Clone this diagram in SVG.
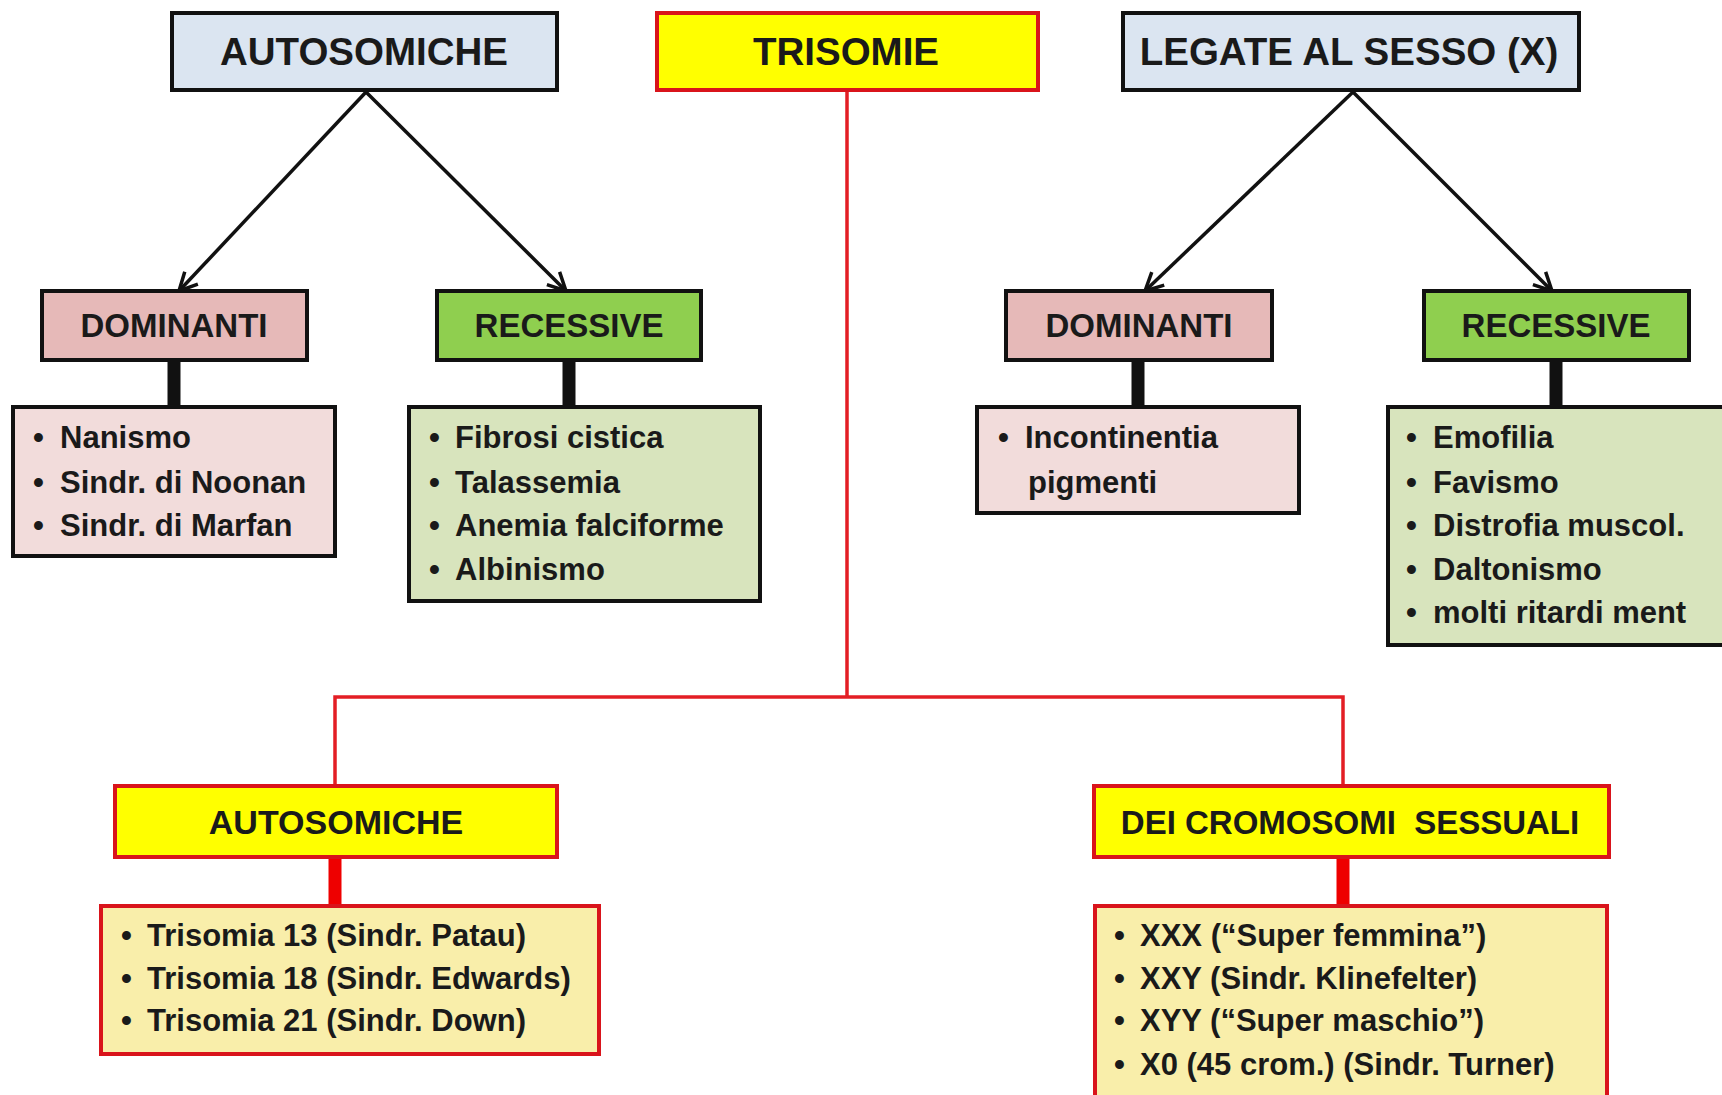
<svg xmlns="http://www.w3.org/2000/svg" width="1722" height="1095" viewBox="0 0 1722 1095">
<defs>
<style>
.t{font-family:"Liberation Sans",Arial,sans-serif;font-weight:bold;fill:#1a1a1a}
.h1{font-size:38.5px}
.h2{font-size:33px}
.h3{font-size:34px}
.li{font-size:31px}
.bk{stroke:#111;stroke-width:4}
.rd{stroke:#d9141b;stroke-width:4}
.blue{fill:#dbe5f1}
.pinkH{fill:#e6b9b8}
.greenH{fill:#8fcf4f}
.pinkL{fill:#f2dcdb}
.greenL{fill:#d8e4bd}
.yel{fill:#ffff00}
.cream{fill:#f9eeaa}
.arw{stroke:#111;stroke-width:3.5;marker-end:url(#arr)}
</style>
<marker id="arr" viewBox="0 0 24 24" refX="21" refY="12" markerWidth="24" markerHeight="24" markerUnits="userSpaceOnUse" orient="auto">
<path d="M3,3 L21,12 L3,21" fill="none" stroke="#111" stroke-width="3.5"/>
</marker>
</defs>
<rect width="1722" height="1095" fill="#ffffff"/>

<g id="connectors">
<line x1="366" y1="92" x2="179" y2="291" class="arw"/>
<line x1="366" y1="92" x2="566" y2="291" class="arw"/>
<line x1="1353" y1="92" x2="1145" y2="291" class="arw"/>
<line x1="1353" y1="92" x2="1552" y2="291" class="arw"/>
<g stroke="#111" stroke-width="13">
<line x1="174" y1="360" x2="174" y2="407"/>
<line x1="569" y1="360" x2="569" y2="407"/>
<line x1="1138" y1="360" x2="1138" y2="407"/>
<line x1="1556" y1="360" x2="1556" y2="407"/>
</g>
<path d="M847,90 V697 M335,786 V697 H1343 V786" fill="none" stroke="#e31e24" stroke-width="3.5"/>
<g stroke="#ee0000" stroke-width="13">
<line x1="335" y1="857" x2="335" y2="906"/>
<line x1="1343" y1="857" x2="1343" y2="906"/>
</g>
</g>

<g id="top-autosomiche">
<rect x="172" y="13" width="385" height="77" class="blue bk"/>
<text x="364" y="65" text-anchor="middle" class="t h1">AUTOSOMICHE</text>
</g>
<g id="trisomie">
<rect x="657" y="13" width="381" height="77" class="yel rd"/>
<text x="846" y="65" text-anchor="middle" class="t h1">TRISOMIE</text>
</g>
<g id="legate">
<rect x="1123" y="13" width="456" height="77" class="blue bk"/>
<text x="1349" y="65" text-anchor="middle" class="t h1">LEGATE AL SESSO (X)</text>
</g>

<g id="dom-left">
<rect x="42" y="291" width="265" height="69" class="pinkH bk"/>
<text x="174" y="337" text-anchor="middle" class="t h2">DOMINANTI</text>
</g>
<g id="rec-left">
<rect x="437" y="291" width="264" height="69" class="greenH bk"/>
<text x="569" y="337" text-anchor="middle" class="t h2">RECESSIVE</text>
</g>
<g id="dom-right">
<rect x="1006" y="291" width="266" height="69" class="pinkH bk"/>
<text x="1139" y="337" text-anchor="middle" class="t h2">DOMINANTI</text>
</g>
<g id="rec-right">
<rect x="1424" y="291" width="265" height="69" class="greenH bk"/>
<text x="1556" y="337" text-anchor="middle" class="t h2">RECESSIVE</text>
</g>

<g id="list-dom-left">
<rect x="13" y="407" width="322" height="149" class="pinkL bk" stroke-width="3"/>
<text class="t li"><tspan x="33" y="448">•</tspan><tspan x="60" y="448">Nanismo</tspan></text>
<text class="t li"><tspan x="33" y="493">•</tspan><tspan x="60" y="493">Sindr. di Noonan</tspan></text>
<text class="t li"><tspan x="33" y="536">•</tspan><tspan x="60" y="536">Sindr. di Marfan</tspan></text>
</g>
<g id="list-rec-left">
<rect x="409" y="407" width="351" height="194" class="greenL bk" stroke-width="3"/>
<text class="t li"><tspan x="429" y="448">•</tspan><tspan x="455" y="448">Fibrosi cistica</tspan></text>
<text class="t li"><tspan x="429" y="493">•</tspan><tspan x="455" y="493">Talassemia</tspan></text>
<text class="t li"><tspan x="429" y="536">•</tspan><tspan x="455" y="536">Anemia falciforme</tspan></text>
<text class="t li"><tspan x="429" y="580">•</tspan><tspan x="455" y="580">Albinismo</tspan></text>
</g>
<g id="list-dom-right">
<rect x="977" y="407" width="322" height="106" class="pinkL bk" stroke-width="3"/>
<text class="t li"><tspan x="998" y="448">•</tspan><tspan x="1025" y="448">Incontinentia</tspan></text>
<text class="t li" x="1028" y="493">pigmenti</text>
</g>
<g id="list-rec-right">
<rect x="1388" y="407" width="336" height="238" class="greenL bk" stroke-width="3"/>
<text class="t li"><tspan x="1406" y="448">•</tspan><tspan x="1433" y="448">Emofilia</tspan></text>
<text class="t li"><tspan x="1406" y="493">•</tspan><tspan x="1433" y="493">Favismo</tspan></text>
<text class="t li"><tspan x="1406" y="536">•</tspan><tspan x="1433" y="536">Distrofia muscol.</tspan></text>
<text class="t li"><tspan x="1406" y="580">•</tspan><tspan x="1433" y="580">Daltonismo</tspan></text>
<text class="t li"><tspan x="1406" y="623">•</tspan><tspan x="1433" y="623">molti ritardi ment</tspan></text>
</g>

<g id="bottom-autosomiche">
<rect x="115" y="786" width="442" height="71" class="yel rd"/>
<text x="336" y="834" text-anchor="middle" class="t h3">AUTOSOMICHE</text>
</g>
<g id="bottom-sessuali">
<rect x="1094" y="786" width="515" height="71" class="yel rd"/>
<text x="1350" y="834" text-anchor="middle" class="t h3" style="white-space:pre;font-size:33px">DEI CROMOSOMI  SESSUALI</text>
</g>

<g id="list-auto">
<rect x="101" y="906" width="498" height="148" class="cream rd" stroke-width="3"/>
<text class="t li"><tspan x="121" y="946">•</tspan><tspan x="147" y="946">Trisomia 13 (Sindr. Patau)</tspan></text>
<text class="t li"><tspan x="121" y="989">•</tspan><tspan x="147" y="989">Trisomia 18 (Sindr. Edwards)</tspan></text>
<text class="t li"><tspan x="121" y="1031">•</tspan><tspan x="147" y="1031">Trisomia 21 (Sindr. Down)</tspan></text>
</g>
<g id="list-sessuali">
<rect x="1095" y="906" width="512" height="200" class="cream rd" stroke-width="3"/>
<text class="t li"><tspan x="1114" y="946">•</tspan><tspan x="1140" y="946">XXX (“Super femmina”)</tspan></text>
<text class="t li"><tspan x="1114" y="989">•</tspan><tspan x="1140" y="989">XXY (Sindr. Klinefelter)</tspan></text>
<text class="t li"><tspan x="1114" y="1031">•</tspan><tspan x="1140" y="1031">XYY (“Super maschio”)</tspan></text>
<text class="t li"><tspan x="1114" y="1075">•</tspan><tspan x="1140" y="1075">X0 (45 crom.) (Sindr. Turner)</tspan></text>
</g>
</svg>
